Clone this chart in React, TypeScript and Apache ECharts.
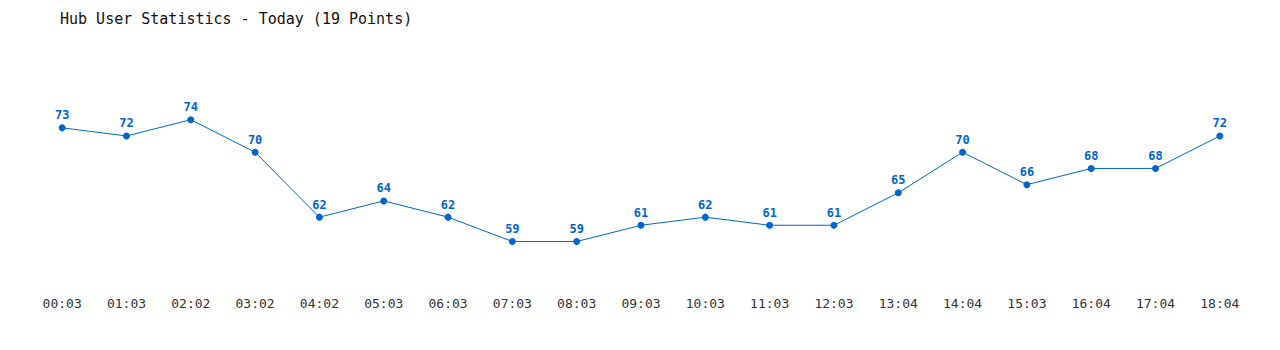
import React, { useEffect, useRef } from "react";
import * as echarts from "echarts";

const categories = ["00:03","01:03","02:02","03:02","04:02","05:03","06:03","07:03","08:03","09:03","10:03","11:03","12:03","13:04","14:04","15:03","16:04","17:04","18:04"];
const users = [73,72,74,70,62,64,62,59,59,61,62,61,61,65,70,66,68,68,72];
const titleText = "Hub User Statistics - Today (19 Points)";

export default function App() {
  const ref = useRef<HTMLDivElement>(null);
  useEffect(() => {
    const chart = echarts.init(ref.current!, null, { renderer: "svg" });
    chart.setOption({
      animation: false,
      backgroundColor: "#ffffff",
      title: {
        text: titleText,
        left: 55,
        top: 6,
        textStyle: { fontFamily: "DejaVu Sans Mono", fontSize: 15, fontWeight: "normal", color: "#111" },
      },
      grid: { left: 30, right: 28, top: 71, bottom: 76 },
      xAxis: {
        type: "category",
        data: categories,
        boundaryGap: true,
        axisLine: { show: false },
        axisTick: { show: false },
        axisLabel: { fontFamily: "DejaVu Sans Mono", fontSize: 13, color: "#333", margin: 23, interval: 0 },
      },
      yAxis: {
        type: "value",
        min: 55,
        max: 80,
        show: false,
        splitLine: { show: false },
      },
      series: [
        {
          type: "line",
          data: users,
          color: "#0066cc",
          lineStyle: { width: 1, color: "#0066cc" },
          symbol: "circle",
          symbolSize: 7,
          itemStyle: { color: "#0066cc" },
          label: {
            show: true,
            position: "top",
            distance: 3,
            fontFamily: "DejaVu Sans Mono",
            fontSize: 12,
            fontWeight: "bold",
            color: "#0066cc",
          },
        },
      ],
    });
    return () => chart.dispose();
  }, []);
  return <div ref={ref} style={{ width: 1280, height: 350, margin: -8 }} />;
}
